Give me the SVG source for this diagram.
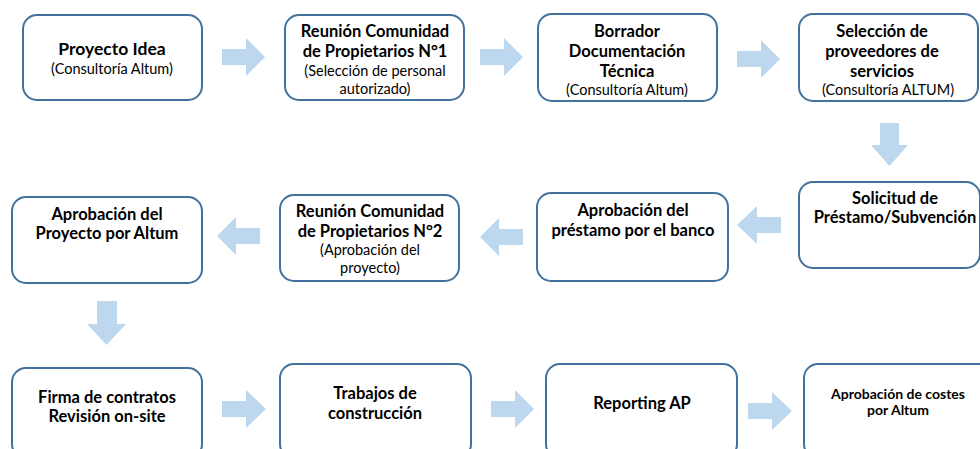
<svg xmlns="http://www.w3.org/2000/svg" width="980" height="449" viewBox="0 0 980 449">
<style>
.box{fill:#fff;stroke:#41719C;stroke-width:2}
.arr{fill:#BDD7EE}
text{font-family:Lato,"Liberation Sans",sans-serif;fill:#000;text-anchor:middle}
.b{font-weight:bold;font-size:16.5px}
.t{font-weight:bold;font-size:17.5px}
.r{font-size:14.5px}
.s{font-weight:bold;font-size:14px}
</style>
<rect width="980" height="449" fill="#fff"/>
<g id="connectors">
<polygon class="arr" points="222,49 246,49 246,38 265,57 246,76 246,65 222,65"/>
<polygon class="arr" points="480,49 504,49 504,38 523,57 504,76 504,65 480,65"/>
<polygon class="arr" points="737,51 761,51 761,40 780,59 761,78 761,67 737,67"/>
<polygon class="arr" points="880,123 899,123 899,145 908,145 889.5,166 871,145 880,145"/>
<polygon class="arr" points="781,217 757,217 757,206 737,225 757,244 757,233 781,233"/>
<polygon class="arr" points="523,229 499,229 499,218 480,237 499,256 499,245 523,245"/>
<polygon class="arr" points="260,228 236,228 236,217 217,236 236,255 236,244 260,244"/>
<polygon class="arr" points="97,301 117,301 117,324 126,324 106.5,345 87,324 97,324"/>
<polygon class="arr" points="222,401 246,401 246,390 266,409 246,428 246,417 222,417"/>
<polygon class="arr" points="491,401 515,401 515,390 534,409 515,428 515,417 491,417"/>
<polygon class="arr" points="748,403 772,403 772,392 792,411 772,430 772,419 748,419"/>
</g>
<g id="n1"><rect class="box" x="23" y="15" width="179" height="85" rx="14"/>
<text class="t" x="112" y="55">Proyecto Idea</text>
<text class="r" x="112" y="74">(Consultoría Altum)</text></g>
<g id="n2"><rect class="box" x="285" y="15" width="179" height="85" rx="14"/>
<text class="b" x="375" y="37">Reunión Comunidad</text>
<text class="b" x="375" y="57">de Propietarios N°1</text>
<text class="r" x="375" y="76">(Selección de personal</text>
<text class="r" x="375" y="94">autorizado)</text></g>
<g id="n3"><rect class="box" x="538" y="14" width="179" height="87" rx="14"/>
<text class="b" x="627" y="37">Borrador</text>
<text class="b" x="627" y="57">Documentación</text>
<text class="b" x="627" y="77">Técnica</text>
<text class="r" x="627" y="95">(Consultoría Altum)</text></g>
<g id="n4"><rect class="box" x="799" y="14" width="179" height="87" rx="14"/>
<text class="b" x="882" y="37">Selección de</text>
<text class="b" x="882" y="57">proveedores de</text>
<text class="b" x="882" y="77">servicios</text>
<text class="r" x="888" y="95">(Consultoría ALTUM)</text></g>
<g id="n5"><rect class="box" x="799" y="182" width="181" height="86" rx="14"/>
<text class="b" x="895" y="204">Solicitud de</text>
<text class="b" x="895" y="223">Préstamo/Subvención</text></g>
<g id="n6"><rect class="box" x="537" y="193" width="191" height="88" rx="14"/>
<text class="b" x="633" y="216">Aprobación del</text>
<text class="b" x="633" y="236">préstamo por el banco</text></g>
<g id="n7"><rect class="box" x="280" y="195" width="179" height="86" rx="14"/>
<text class="b" x="370" y="217">Reunión Comunidad</text>
<text class="b" x="370" y="237">de Propietarios N°2</text>
<text class="r" x="370" y="255">(Aprobación del</text>
<text class="r" x="370" y="273">proyecto)</text></g>
<g id="n8"><rect class="box" x="12" y="197" width="190" height="86" rx="14"/>
<text class="b" x="107" y="220">Aprobación del</text>
<text class="b" x="107" y="239">Proyecto por Altum</text></g>
<g id="n9"><rect class="box" x="12" y="368" width="190" height="90" rx="14"/>
<text class="b" x="107" y="403">Firma de contratos</text>
<text class="b" x="107" y="422">Revisión on-site</text></g>
<g id="n10"><rect class="box" x="280" y="364" width="191" height="94" rx="14"/>
<text class="b" x="375" y="399">Trabajos de</text>
<text class="b" x="375" y="419">construcción</text></g>
<g id="n11"><rect class="box" x="546" y="364" width="191" height="94" rx="14"/>
<text class="b" x="642" y="409">Reporting AP</text></g>
<g id="n12"><rect class="box" x="804" y="364" width="190" height="94" rx="14"/>
<text class="s" x="898" y="399">Aprobación de costes</text>
<text class="s" x="898" y="415">por Altum</text></g>
</svg>
